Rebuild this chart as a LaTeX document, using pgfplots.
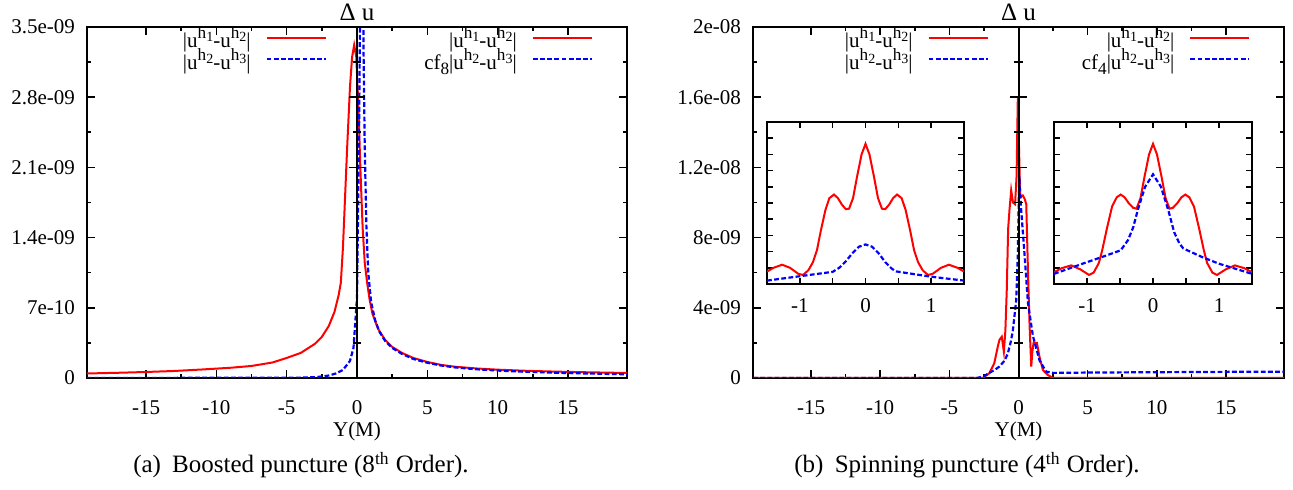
\documentclass[border=0pt]{standalone}
\usepackage{fontspec}
\setmainfont{Liberation Serif}
\usepackage{pgfplots}
\pgfplotsset{compat=1.18}

\newcommand{\fs}{\fontsize{10.5}{12}\selectfont}
\newcommand{\hsup}[1]{\raisebox{0.42em}{\fontsize{8.6}{9}\selectfont h\raisebox{-0.18em}{\fontsize{7}{8}\selectfont #1}}}
\newcommand{\la}{|u\hsup{1}-u\hsup{2}|}
\newcommand{\lb}{|u\hsup{2}-u\hsup{3}|}

\pgfplotsset{
  legend image code/.code={\draw[#1] (0pt,2.5pt) -- (29.5pt,2.5pt);},
  leg/.style={
    legend plot pos=right, legend cell align=right,
    legend style={draw=none, fill=none, anchor=north east, inner sep=0pt, outer sep=0pt,
      font=\fs, /tikz/column sep=7pt, row sep=0pt,
      nodes={inner sep=0.5pt, text height=7.4pt, text depth=2.3pt}},
  },
  mainax/.style={scale only axis, xmin=-19.2, xmax=19.2, ymin=0,
    axis line style={line width=1pt},
    tick style={black, line width=0.8pt},
    major tick length=4.2pt, minor tick length=2.1pt,
    tick align=inside, xtick pos=both, ytick pos=both,
    xtick={-15,-10,-5,0,5,10,15}, xticklabels={-15,-10,-5,0,5,10,15},
    minor x tick num=1, minor y tick num=1,
    scaled y ticks=false,
    tick label style={font=\fs},
    xticklabel style={anchor=base, yshift=-18.5pt},
    yticklabel style={xshift=-2.5pt},
    xlabel={Y(M)},
    xlabel style={font=\fs, at={(axis description cs:0.5,0)}, anchor=base, yshift=-29pt},
    title={Δ u},
    title style={font=\fontsize{12.5}{14}\selectfont, at={(axis description cs:0.5,1)}, anchor=base, yshift=-3pt},
    leg,
  },
  zeroax/.style={scale only axis, xmin=-19.2, xmax=19.2, ymin=0,
    axis x line=none, axis y line=center,
    axis line style={-, line width=1pt}, inner axis line style={-},
    xtick=\empty, yticklabels={}, minor y tick num=1,
    tick align=center, major tick length=8.4pt, minor tick length=4.2pt,
    tick style={black, line width=0.8pt}, scaled y ticks=false,
    leg,
  },
  inset/.style={scale only axis, xmin=-1.5, xmax=1.5, ymin=0, ymax=10,
    axis line style={line width=0.9pt},
    tick style={black, line width=0.8pt},
    major tick length=3pt, tick align=inside, xtick pos=both, ytick pos=both,
    xtick={-1,-0.5,0,0.5,1}, xticklabels={-1,{},0,{},1},
    ytick={1,2,3,4,5,6,7,8,9}, yticklabels={},
    tick label style={font=\fs},
    xticklabel style={anchor=base, yshift=-14.5pt},
  },
  redl/.style={red, line width=1pt},
  bluel/.style={blue, line width=1.1pt, dash pattern=on 2.4pt off 1.2pt},
}

\begin{document}
\begin{tikzpicture}
\useasboundingbox (0,0) rectangle (646.5pt,-245pt);

% ---------------- left panel ----------------
\begin{axis}[mainax, at={(43.5pt,-189pt)}, anchor=south west, width=270pt, height=175.5pt,
  ymax=3.5e-9,
  ytick={0,7e-10,1.4e-9,2.1e-9,2.8e-9,3.5e-9},
  yticklabels={0,7e-10,1.4e-09,2.1e-09,2.8e-09,3.5e-09},
  legend style={at={(axis description cs:0.444,0.986)}}]
\addplot[redl] table {
x y
-19.2 4.5e-11
-17 5.2e-11
-15 6.0e-11
-13 7.0e-11
-11 8.5e-11
-9 1.02e-10
-7.5 1.2e-10
-6 1.55e-10
-5 2.0e-10
-4 2.5e-10
-3 3.4e-10
-2.5 4.1e-10
-2 5.2e-10
-1.6 6.6e-10
-1.3 8.3e-10
-1.15 9.5e-10
-1.0 1.3e-9
-0.85 1.8e-9
-0.7 2.3e-9
-0.5 2.9e-9
-0.35 3.2e-9
-0.2 3.32e-9
-0.05 3.2e-9
0.1 2.7e-9
0.25 2.05e-9
0.4 1.5e-9
0.55 1.15e-9
0.72 9.5e-10
0.9 7.8e-10
1.1 6.4e-10
1.5 4.9e-10
2 3.8e-10
2.5 3.1e-10
3.2 2.5e-10
4 2.0e-10
5 1.6e-10
6 1.3e-10
7 1.12e-10
8.5 9.5e-11
10 8.3e-11
12 7.2e-11
14 6.4e-11
16 5.8e-11
19.2 5.0e-11
};
\addlegendentry{\la}
\addplot[bluel] table {
x y
-19.2 1e-12
-6 2e-12
-4 4e-12
-3 8e-12
-2.5 1.5e-11
-2 2.5e-11
-1.5 4.5e-11
-1 8e-11
-0.5 1.7e-10
-0.25 3.0e-10
0 8e-10
0.15 2.5e-9
0.3 5e-9
0.42 4.2e-9
0.47 3.2e-9
0.55 2.3e-9
0.67 1.5e-9
0.8 1.05e-9
1.0 7.6e-10
1.3 5.7e-10
1.6 4.6e-10
2 3.7e-10
2.5 3.0e-10
3.2 2.4e-10
4 1.9e-10
5 1.52e-10
6 1.24e-10
7 1.05e-10
8.5 8.7e-11
10 7.4e-11
12 6.2e-11
14 5.3e-11
16 4.6e-11
19.2 3.7e-11
};
\addlegendentry{\lb}
\end{axis}
\begin{axis}[zeroax, at={(43.5pt,-189pt)}, anchor=south west, width=270pt, height=175.5pt,
  ymax=3.5e-9, ytick={0,7e-10,1.4e-9,2.1e-9,2.8e-9,3.5e-9},
  legend style={at={(axis description cs:0.937,0.986)}}]
\addlegendimage{redl}
\addlegendentry{\la}
\addlegendimage{bluel}
\addlegendentry{cf\raisebox{-0.25em}{\fontsize{8.6}{9}\selectfont 8}\lb}
\end{axis}

% ---------------- right panel ----------------
\begin{axis}[mainax, at={(376.5pt,-189pt)}, anchor=south west, width=265.5pt, height=175.5pt,
  ymax=2e-8,
  ytick={0,4e-9,8e-9,1.2e-8,1.6e-8,2e-8},
  yticklabels={0,4e-09,8e-09,1.2e-08,1.6e-08,2e-08},
  legend style={at={(axis description cs:0.444,0.986)}}]
\addplot[redl] table {
x y
-19.2 0
-2.6 0
-2.45 8e-11
-2.1 2.8e-10
-1.75 8.5e-10
-1.5 1.78e-9
-1.38 2.17e-9
-1.21 2.35e-9
-1.06 1.5e-9
-0.95 2.7e-9
-0.85 5.0e-9
-0.75 8.5e-9
-0.65 9.6e-9
-0.53 1.07e-8
-0.4 1.0e-8
-0.25 9.9e-9
-0.14 1.15e-8
-0.05 1.6e-8
0.04 1.3e-8
0.12 1.03e-8
0.31 1.04e-8
0.45 1.02e-8
0.56 9.9e-9
0.68 6.2e-9
0.8 3.0e-9
0.92 6.5e-10
1.0 1.5e-9
1.09 2.0e-9
1.33 2.0e-9
1.52 1.2e-9
1.76 4.6e-10
2.12 1.7e-10
2.5 0
19.2 0
};
\addlegendentry{\la}
\addplot[bluel] table {
x y
-19.2 0
-3 0
-2.5 1e-10
-2.1 3e-10
-1.75 4.5e-10
-1.38 6.5e-10
-1.0 1.0e-9
-0.77 1.4e-9
-0.55 2.1e-9
-0.41 2.7e-9
-0.17 4.4e-9
-0.05 7e-9
0.05 1.15e-8
0.19 9.6e-9
0.43 7.1e-9
0.68 4.3e-9
1.04 2.4e-9
1.52 1.0e-9
2.0 3.6e-10
2.5 2.9e-10
5 3.1e-10
10 3.3e-10
15 3.5e-10
19.2 3.6e-10
};
\addlegendentry{\lb}
\end{axis}
\begin{axis}[zeroax, at={(376.5pt,-189pt)}, anchor=south west, width=265.5pt, height=175.5pt,
  ymax=2e-8, ytick={0,4e-9,8e-9,1.2e-8,1.6e-8,2e-8},
  legend style={at={(axis description cs:0.937,0.986)}}]
\addlegendimage{redl}
\addlegendentry{\la}
\addlegendimage{bluel}
\addlegendentry{cf\raisebox{-0.25em}{\fontsize{8.6}{9}\selectfont 4}\lb}
\end{axis}

% ---------------- insets ----------------
\begin{axis}[inset, at={(383.5pt,-142pt)}, anchor=south west, width=98.5pt, height=81pt]
\addplot[redl] table {
x y
-1.5 0.77
-1.4 1.0
-1.27 1.19
-1.15 1.0
-1.02 0.62
-0.95 0.56
-0.87 0.85
-0.8 1.35
-0.74 2.08
-0.68 3.3
-0.61 4.58
-0.55 5.3
-0.48 5.52
-0.42 5.3
-0.36 4.9
-0.3 4.62
-0.25 4.65
-0.19 5.3
-0.13 6.6
-0.06 8.0
0 8.65
0.06 8.0
0.13 6.6
0.19 5.3
0.25 4.65
0.3 4.62
0.36 4.9
0.42 5.3
0.48 5.52
0.55 5.3
0.61 4.58
0.68 3.3
0.74 2.08
0.8 1.35
0.87 0.85
0.95 0.56
1.02 0.62
1.15 1.0
1.27 1.19
1.4 1.0
1.5 0.77
};
\addplot[bluel] table {
x y
-1.5 0.21
-1.0 0.48
-0.5 0.75
-0.4 1.0
-0.3 1.4
-0.2 1.9
-0.1 2.3
0 2.44
0.1 2.3
0.2 1.9
0.3 1.35
0.4 0.95
0.46 0.78
1.0 0.45
1.5 0.21
};
\end{axis}
\begin{axis}[inset, at={(527pt,-142pt)}, anchor=south west, width=99pt, height=81pt]
\addplot[redl] table {
x y
-1.5 0.73
-1.38 0.98
-1.24 1.15
-1.1 0.9
-0.97 0.56
-0.9 0.7
-0.82 1.3
-0.77 2.08
-0.7 3.4
-0.62 4.79
-0.55 5.35
-0.49 5.52
-0.43 5.35
-0.37 5.0
-0.3 4.7
-0.25 4.65
-0.19 5.3
-0.13 6.6
-0.06 8.0
0 8.65
0.06 8.0
0.13 6.6
0.19 5.3
0.25 4.65
0.3 4.7
0.37 5.0
0.43 5.35
0.49 5.52
0.55 5.35
0.62 4.79
0.7 3.4
0.77 2.08
0.82 1.3
0.9 0.7
0.97 0.56
1.1 0.9
1.24 1.15
1.38 0.98
1.5 0.73
};
\addplot[bluel] table {
x y
-1.5 0.625
-1.0 1.35
-0.77 1.67
-0.49 2.08
-0.38 2.7
-0.3 3.5
-0.23 4.58
-0.12 6.0
0 6.77
0.12 6.0
0.23 4.58
0.32 3.2
0.4 2.5
0.46 2.19
0.74 1.67
1.0 1.25
1.25 0.94
1.5 0.625
};
\end{axis}

% ---------------- captions ----------------
\node[anchor=base, font=\fontsize{12.5}{14}\selectfont] at (150.5pt,-236.5pt)
  {(a)\hspace{0.45em}Boosted puncture (8\textsuperscript{th} Order).};
\node[anchor=base, font=\fontsize{12.5}{14}\selectfont] at (483.5pt,-236.5pt)
  {(b)\hspace{0.45em}Spinning puncture (4\textsuperscript{th} Order).};
\end{tikzpicture}
\end{document}
